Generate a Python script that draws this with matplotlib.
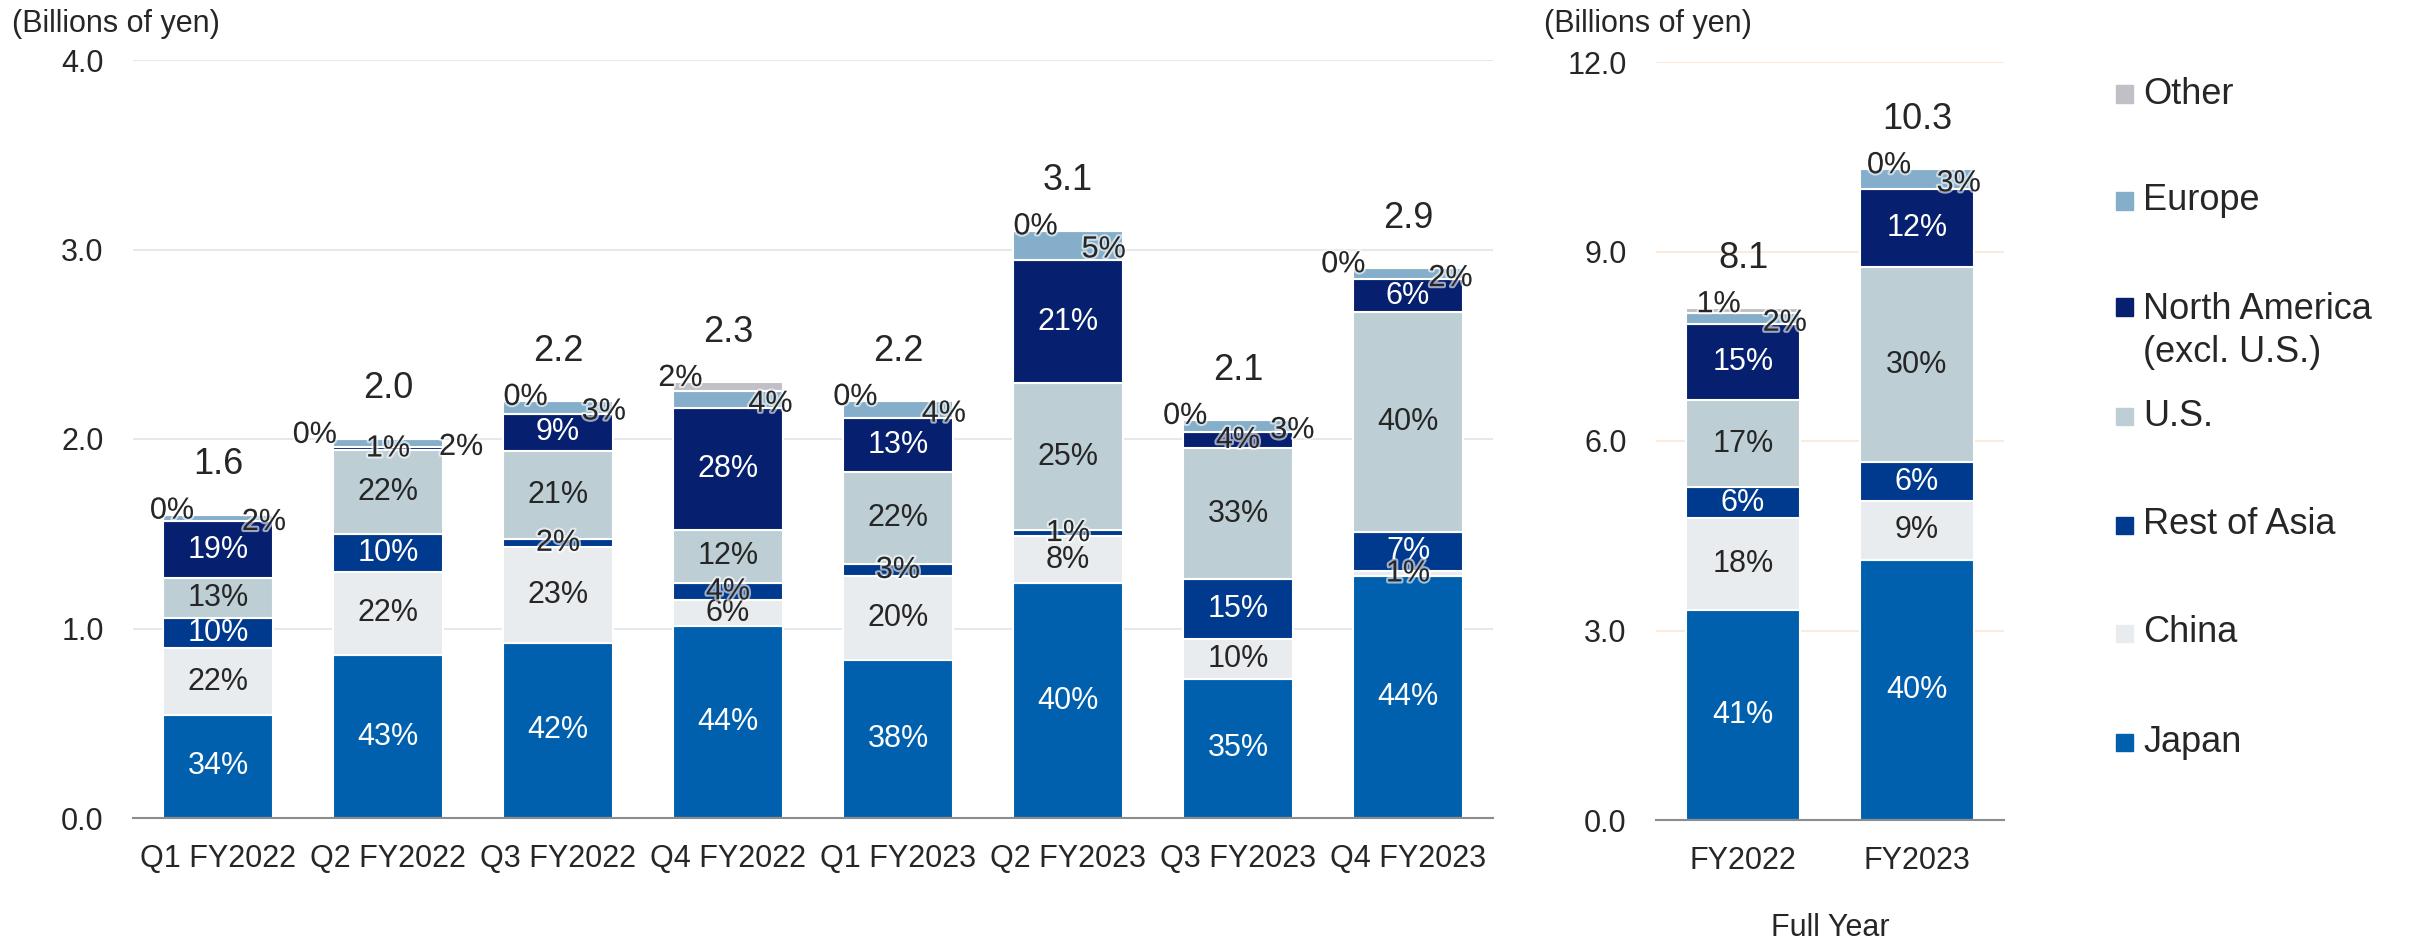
## Stacked bar chart of sales by region: quarterly (left) and full year (right).

import numpy as np
import matplotlib
matplotlib.use('Agg')
import matplotlib.pyplot as plt
import matplotlib.patheffects as pe
from matplotlib.patches import Rectangle

plt.rcParams['font.family'] = ['Liberation Sans', 'DejaVu Sans']

## data (percent shares, totals in billions of yen)
quarters = ['Q1 FY2022', 'Q2 FY2022', 'Q3 FY2022', 'Q4 FY2022',
            'Q1 FY2023', 'Q2 FY2023', 'Q3 FY2023', 'Q4 FY2023']
quarter_totals = [1.6, 2.0, 2.2, 2.3, 2.2, 3.1, 2.1, 2.9]
japan_q = [34, 43, 42, 44, 38, 40, 35, 44]
china_q = [22, 22, 23, 6, 20, 8, 10, 1]
asia_q = [10, 10, 2, 4, 3, 1, 15, 7]
us_q = [13, 22, 21, 12, 22, 25, 33, 40]
north_america_q = [19, 1, 9, 28, 13, 21, 4, 6]
europe_q = [2, 2, 3, 4, 4, 5, 3, 2]
other_q = [0, 0, 0, 2, 0, 0, 0, 0]

years = ['FY2022', 'FY2023']
year_totals = [8.1, 10.3]
japan_fy = [41, 40]
china_fy = [18, 9]
asia_fy = [6, 6]
us_fy = [17, 30]
north_america_fy = [15, 12]
europe_fy = [2, 3]
other_fy = [1, 0]

regions = ['Japan', 'China', 'Rest of Asia', 'U.S.', 'North America', 'Europe', 'Other']
legend_labels = ['Other', 'Europe', 'North America\n(excl. U.S.)', 'U.S.',
                 'Rest of Asia', 'China', 'Japan']

## styling
colors = {'Japan': '#0060AE', 'China': '#E8ECEF', 'Rest of Asia': '#003A8E',
          'U.S.': '#BDCFD5', 'North America': '#06206F', 'Europe': '#85AECA',
          'Other': '#C1C0C7'}
dark_bg = ('Japan', 'Rest of Asia', 'North America')
TEXT = '#262626'
BAR_W = 0.65

# horizontal nudges of the small top labels, in bar units
other_dx_q = [-0.27, -0.43, -0.19, -0.28, -0.25, -0.19, -0.31, -0.38]
europe_dx_q = [0.27, 0.43, 0.27, 0.25, 0.27, 0.21, 0.32, 0.25]
other_dx_fy = [-0.14, -0.16]
europe_dx_fy = [0.24, 0.24]

halo = [pe.withStroke(linewidth=3, foreground='white', alpha=0.6)]


def draw_panel(ax, cats, totals, shares, other_dx, europe_dx, grid_color):
    x = np.arange(len(cats))
    totals = np.array(totals, dtype=float)
    bottom = np.zeros(len(cats))
    for name, pct in zip(regions, shares):
        pct = np.array(pct, dtype=float)
        h = totals * pct / 100
        ax.bar(x, h, BAR_W, bottom=bottom, color=colors[name],
               edgecolor='white', linewidth=1.5, zorder=2)
        for i in range(len(cats)):
            txt = '%d%%' % pct[i]
            if name == 'Other':
                ax.annotate(txt, (x[i] + other_dx[i], bottom[i] + h[i]),
                            xytext=(0, 3), textcoords='offset points',
                            ha='center', va='center', fontsize=22, color=TEXT,
                            path_effects=halo, zorder=4)
            elif name == 'Europe':
                ax.annotate(txt, (x[i] + europe_dx[i], bottom[i] + h[i] / 2),
                            xytext=(0, -3), textcoords='offset points',
                            ha='center', va='center', fontsize=22, color=TEXT,
                            path_effects=halo, zorder=4)
            else:
                small = pct[i] < 5
                col = 'white' if (name in dark_bg and not small) else TEXT
                ax.text(x[i], bottom[i] + h[i] / 2, txt, ha='center', va='center',
                        fontsize=22, color=col, zorder=4,
                        path_effects=halo if small else None)
        bottom += h
    for i in range(len(cats)):
        ax.annotate('%.1f' % totals[i], (x[i], bottom[i]), xytext=(0, 36),
                    textcoords='offset points', ha='center', va='center',
                    fontsize=26, color=TEXT)

    ax.set_xlim(-0.5, len(cats) - 0.5)
    ax.set_xticks(x)
    ax.set_xticklabels(cats)
    for s in ('top', 'left', 'right'):
        ax.spines[s].set_visible(False)
    ax.spines['bottom'].set_color('#8C8C8C')
    ax.spines['bottom'].set_linewidth(1.5)
    ax.spines['bottom'].set_zorder(3)
    ax.yaxis.grid(True, color=grid_color, linewidth=1.5)
    ax.set_axisbelow(True)
    ax.tick_params(axis='y', length=0, pad=21, labelsize=22, labelcolor=TEXT)
    ax.tick_params(axis='x', length=0, pad=19, labelsize=22, labelcolor=TEXT)
    ax.yaxis.set_major_formatter(matplotlib.ticker.FormatStrFormatter('%.1f'))


fig = plt.figure(figsize=(24.09, 9.4), dpi=100)
W, H = 2409.0, 940.0

ax1 = fig.add_axes([133 / W, 1 - 818 / H, 1360 / W, 758 / H])
draw_panel(ax1, quarters, quarter_totals,
           [japan_q, china_q, asia_q, us_q, north_america_q, europe_q, other_q],
           other_dx_q, europe_dx_q, '#E5E8ED')
ax1.set_ylim(0, 4)
ax1.set_yticks([0, 1, 2, 3, 4])

ax2 = fig.add_axes([1656 / W, 1 - 820 / H, 348 / W, 758 / H])
draw_panel(ax2, years, year_totals,
           [japan_fy, china_fy, asia_fy, us_fy, north_america_fy, europe_fy, other_fy],
           other_dx_fy, europe_dx_fy, '#FCEBDC')
ax2.set_ylim(0, 12)
ax2.set_yticks([0, 3, 6, 9, 12])

fig.text(12 / W, 1 - 24 / H, '(Billions of yen)', fontsize=22, color=TEXT,
         ha='left', va='center')
fig.text(1544 / W, 1 - 24 / H, '(Billions of yen)', fontsize=22, color=TEXT,
         ha='left', va='center')
fig.text(1830 / W, 1 - 928 / H, 'Full Year', fontsize=22, color=TEXT,
         ha='center', va='center')

## legend, drawn by hand so the two-line entry keeps its marker on the first line
legend_keys = ['Other', 'Europe', 'North America', 'U.S.', 'Rest of Asia', 'China', 'Japan']
legend_y = [94, 201, 307, 416, 525, 633, 742]
for key, label, yy in zip(legend_keys, legend_labels, legend_y):
    fig.add_artist(Rectangle((2116 / W, 1 - (yy + 8.5) / H), 17 / W, 17 / H,
                             transform=fig.transFigure, color=colors[key]))
    if '\n' in label:
        fig.text(2143 / W, 1 - (yy - 15) / H, label, fontsize=26, color=TEXT,
                 ha='left', va='top', linespacing=1.3)
    else:
        fig.text(2143 / W, 1 - yy / H, label, fontsize=26, color=TEXT,
                 ha='left', va='center')

plt.savefig('out.png', dpi=100)
